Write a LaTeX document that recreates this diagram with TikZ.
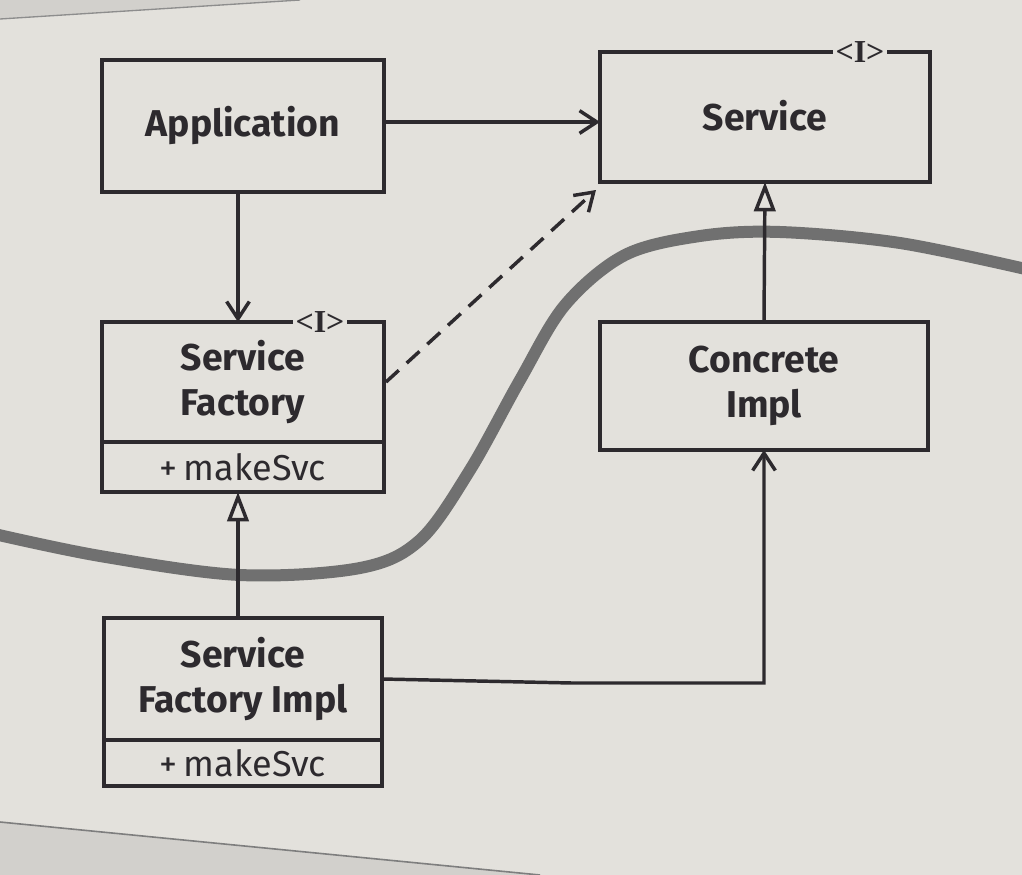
\documentclass[tikz,border=0pt]{standalone}
\usepackage{fontspec}
\setmainfont{Fira Sans}
\newfontfamily\ifont{Liberation Serif}
\usetikzlibrary{arrows.meta,positioning,calc}
\definecolor{paper}{RGB}{227,225,220}
\definecolor{paperdark}{RGB}{210,208,204}
\definecolor{ink}{RGB}{45,42,46}
\definecolor{curvegray}{RGB}{112,112,112}
\tikzset{
  box/.style={draw=ink, line width=3pt, fill=paper, text=ink, inner sep=0pt, outer sep=0pt, align=center,
    font=\fontsize{28}{34}\selectfont\bfseries},
  meth/.style={draw=ink, line width=3pt, fill=paper, text=ink, inner sep=0pt, outer sep=0pt, align=center,
    font=\fontsize{27}{30}\selectfont},
  itag/.style={fill=paper, text=ink, inner sep=2pt, font=\ifont\bfseries\fontsize{24}{24}\selectfont},
  conn/.style={draw=ink, line width=2.6pt, -{Straight Barb[length=13pt,width=17pt,line width=2.6pt]}},
  realize/.style={draw=ink, line width=2.6pt, -{Triangle[open,length=22pt,width=16pt,line width=2.6pt,fill=paper]}},
  depend/.style={conn, dash pattern=on 13pt off 8pt},
}
\begin{document}
\begin{tikzpicture}[x=0.75pt,y=-0.75pt]
\useasboundingbox (0,0) rectangle (1022,875);
\fill[paper] (0,0) rectangle (1022,875);
% page edges
\fill[paperdark] (0,0) -- (300,0) -- (0,19) -- cycle;
\draw[curvegray!80, line width=1pt] (0,19) -- (300,0);
\fill[paperdark] (0,822) -- (540,875) -- (0,875) -- cycle;
\draw[curvegray!90, line width=1.2pt] (0,822) -- (540,875);
% boundary curve
\draw[curvegray, line width=9pt, line cap=round] plot[smooth, tension=0.55] coordinates
  {(-10,533) (100,556) (240,575) (360,568) (420,540) (470,470) (520,380) (565,305) (625,255) (700,236) (780,232) (900,243) (1030,270)};
% boxes
\node[box, minimum width={0.75*282pt}, minimum height={0.75*132pt}] (app) at (243,126) {Application};
\node[box, minimum width={0.75*330pt}, minimum height={0.75*130pt}] (svc) at (765,117) {\raisebox{3pt}{Service}};
\node[itag] (svctag) at (860,52) {<I>};
\node[box, minimum width={0.75*282pt}, minimum height={0.75*120pt}] (sf) at (243,382) {Service\\Factory};
\node[meth, minimum width={0.75*282pt}, minimum height={0.75*50pt}, anchor=north] (sfm) at (sf.south) {+\,makeSvc};
\node[itag] (sftag) at (320,322) {<I>};
\node[box, minimum width={0.75*328pt}, minimum height={0.75*128pt}] (ci) at (764,386) {Concrete\\Impl};
\node[box, minimum width={0.75*278pt}, minimum height={0.75*122pt}] (sfi) at (243,679) {Service\\Factory Impl};
\node[meth, minimum width={0.75*278pt}, minimum height={0.75*46pt}, anchor=north] (sfim) at (sfi.south) {+\,makeSvc};
% connectors
\draw[conn] (app.east |- 0,122) -- (svc.west |- 0,122);
\draw[conn] (app.south -| 238,0) -- (sf.north -| 238,0);
\draw[depend] ($(sf.east)+(2,0)$) -- ($(svc.south west)+(-4,8)$);
\draw[realize] (ci.north) -- (svc.south);
\draw[realize] (sfi.north -| 238,0) -- (sfm.south -| 238,0);
\draw[conn] (sfi.east) -- ++(190,4) -| (ci.south);
\end{tikzpicture}
\end{document}
